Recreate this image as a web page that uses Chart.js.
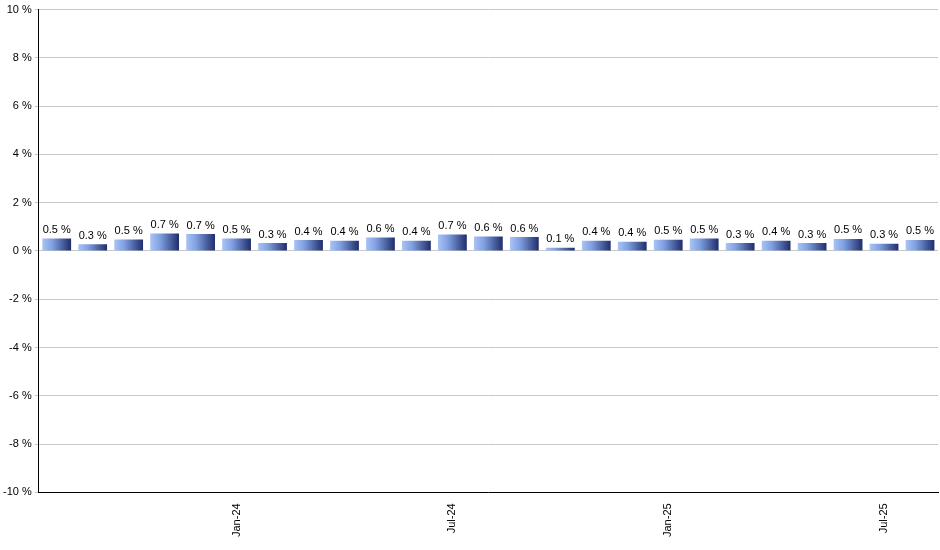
<!DOCTYPE html>
<html><head><meta charset="utf-8">
<script src="https://cdn.jsdelivr.net/npm/chart.js@4/dist/chart.umd.min.js"></script>
<style>html,body{margin:0;padding:0;background:#fff}#w{width:940px;height:550px}</style>
</head><body><div id="w"><canvas id="c"></canvas></div>
<script>
const months = ["Aug-23","Sep-23","Oct-23","Nov-23","Dec-23","Jan-24","Feb-24","Mar-24","Apr-24","May-24","Jun-24","Jul-24","Aug-24","Sep-24","Oct-24","Nov-24","Dec-24","Jan-25","Feb-25","Mar-25","Apr-25","May-25","Jun-25","Jul-25","Aug-25"];
const values = [0.52,0.28,0.48,0.72,0.7,0.52,0.33,0.45,0.42,0.56,0.42,0.68,0.6,0.58,0.13,0.42,0.38,0.47,0.52,0.33,0.42,0.33,0.5,0.3,0.46];
const labelsShown = ["0.5","0.3","0.5","0.7","0.7","0.5","0.3","0.4","0.4","0.6","0.4","0.7","0.6","0.6","0.1","0.4","0.4","0.5","0.5","0.3","0.4","0.3","0.5","0.3","0.5"];
const tickMonths = ["Jan-24","Jul-24","Jan-25","Jul-25"];

function grad(ctx){
  const el = ctx.element; const chart = ctx.chart;
  if(!el || !chart.chartArea) return '#6f8fd8';
  const x = el.x, w = el.width;
  if(!isFinite(x) || !isFinite(w) || w<=0) return '#6f8fd8';
  const g = chart.ctx.createLinearGradient(x - w/2, 0, x + w/2, 0);
  g.addColorStop(0,'#a9c4f5'); g.addColorStop(0.35,'#7f9fe0'); g.addColorStop(1,'#1f2d6b');
  return g;
}
const labelPlugin = {id:'lbl', afterDatasetsDraw(chart){
  const c = chart.ctx; const meta = chart.getDatasetMeta(0);
  c.save(); c.font = '11px Arial, "Liberation Sans"'; c.fillStyle='#000'; c.textAlign='center'; c.textBaseline='bottom';
  meta.data.forEach((b,i)=>{ c.fillText(labelsShown[i]+' %', b.x, b.y-3); });
  c.restore();
}};
const ch = new Chart(document.getElementById('c'),{
  type:'bar',
  data:{labels:months,datasets:[{data:values,backgroundColor:grad,borderWidth:0,categoryPercentage:0.8,barPercentage:1}]},
  options:{responsive:true,maintainAspectRatio:false,animation:false,
    layout:{padding:{top:4,right:2,left:0,bottom:10}},
    plugins:{legend:{display:false},tooltip:{enabled:false}},
    scales:{
      x:{grid:{display:false,drawTicks:true},border:{color:'#000'},
        ticks:{autoSkip:false,maxRotation:90,minRotation:90,color:'#000',font:{size:11,family:'Arial, "Liberation Sans"'},
          callback:function(v,i){const l=months[i];return tickMonths.includes(l)?l:'';}}},
      y:{min:-10,max:10,border:{color:'#000'},grid:{color:'#c8c8c8',drawTicks:true,tickLength:4},
        ticks:{stepSize:2,color:'#000',font:{size:11,family:'Arial, "Liberation Sans"'},callback:v=>v+' %'}}
    }},
  plugins:[labelPlugin]
});
ch.update();
</script></body></html>
